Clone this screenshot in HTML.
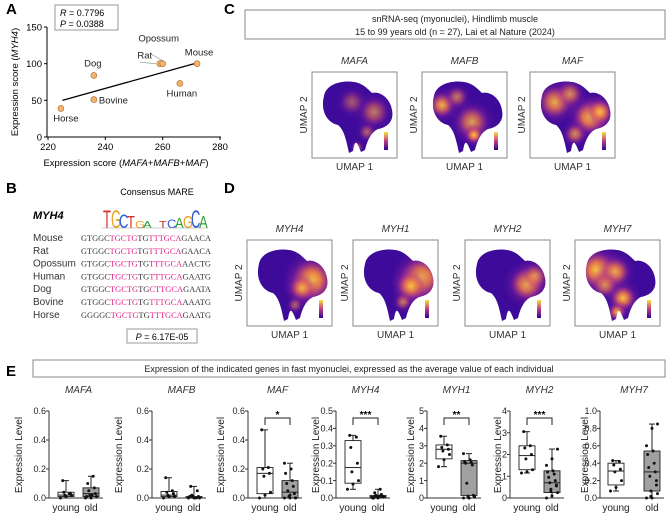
<!DOCTYPE html>
<html><head><meta charset="utf-8"><style>
html,body{margin:0;padding:0;background:#fff}
svg{display:block;font-family:"Liberation Sans",sans-serif}
</style></head><body>
<svg id="fig" width="669" height="530" viewBox="0 0 669 530">
<defs>
<linearGradient id="leg" x1="0" y1="1" x2="0" y2="0"><stop offset="0" stop-color="#2a0593"/><stop offset="0.5" stop-color="#c33d80"/><stop offset="1" stop-color="#f9e03c"/></linearGradient>
<radialGradient id="hot"><stop offset="0" stop-color="#fbd33a" stop-opacity="1"/><stop offset="0.45" stop-color="#f0803f" stop-opacity="0.85"/><stop offset="1" stop-color="#b02a8f" stop-opacity="0"/></radialGradient>
<radialGradient id="warm"><stop offset="0" stop-color="#d8508a" stop-opacity="0.9"/><stop offset="1" stop-color="#8a1ca0" stop-opacity="0"/></radialGradient>
<path id="blob" d="M12,24 C14,12 30,8 42,10 C50,11 55,16 60,21 C68,19 78,26 80,38 C82,48 77,55 66,57 C60,60 56,66 53,78 L49,80 C45,70 43,66 41,79 L37,81 C34,67 32,58 26,53 C16,51 8,40 12,24 Z"/>
<clipPath id="blobclip"><use href="#blob"/></clipPath>
</defs>

<g>
<text x="6" y="14" font-size="15" font-weight="bold">A</text>
<rect x="55" y="5" width="63" height="25" fill="#fff" stroke="#999"/>
<text x="60" y="16" font-size="9"><tspan font-style="italic">R</tspan> = 0.7796</text>
<text x="60" y="27" font-size="9"><tspan font-style="italic">P</tspan> = 0.0388</text>
<g id="scatter"></g>
<text x="126" y="166" font-size="9.5" text-anchor="middle">Expression score (<tspan font-style="italic">MAFA</tspan>+<tspan font-style="italic">MAFB</tspan>+<tspan font-style="italic">MAF</tspan>)</text>
<text transform="translate(18,82) rotate(-90)" font-size="9.5" text-anchor="middle">Expression score (<tspan font-style="italic">MYH4</tspan>)</text>
</g>

<g>
<text x="6" y="193" font-size="15" font-weight="bold">B</text>
<text x="157" y="195" font-size="9" text-anchor="middle">Consensus MARE</text>
<text x="33" y="219" font-size="11" font-weight="bold" font-style="italic">MYH4</text>
<g id="logo"></g>
<g id="seqs"></g>
<rect x="127" y="329" width="70" height="14" fill="#fff" stroke="#999"/>
<text x="162" y="340" font-size="9" text-anchor="middle"><tspan font-style="italic">P</tspan> = 6.17E-05</text>
</g>

<text x="224" y="14" font-size="15" font-weight="bold">C</text>
<rect x="245" y="10" width="420" height="29" fill="#fff" stroke="#888"/>
<text x="455" y="22" font-size="9" text-anchor="middle" fill="#222">snRNA-seq (myonuclei), Hindlimb muscle</text>
<text x="455" y="35" font-size="9" text-anchor="middle" fill="#222">15 to 99 years old (n = 27), Lai et al Nature (2024)</text>
<text x="224" y="193" font-size="15" font-weight="bold">D</text>
<g id="umaps"></g>

<text x="6" y="376" font-size="15" font-weight="bold">E</text>
<rect x="33" y="360" width="632" height="17" fill="#fff" stroke="#888"/>
<text x="349" y="372" font-size="9" text-anchor="middle" fill="#222">Expression of the indicated genes in fast myonuclei, expressed as the average value of each individual</text>
<g id="boxes"></g>
</svg>
<script>
const NS="http://www.w3.org/2000/svg";
function mk(parent,tag,attrs,txt){const e=document.createElementNS(NS,tag);for(const k in attrs)e.setAttribute(k,attrs[k]);if(txt!==undefined)e.textContent=txt;parent.appendChild(e);return e;}

/* ---------- Panel A data ---------- */
const species=["Horse","Dog","Bovine","Rat","Opossum","Mouse","Human"];
const mafScore=[224.5,236,236,259,260,272,266];
const myh4Score=[39,84,51,100,100,100,73];
const fitX=[225,272];
const fitY=[50,101];
const xTicksA=[220,240,260,280];
const yTicksA=[0,50,100,150];

const sx=v=>48+(v-220)/60*172;
const sy=v=>137-v/150*110;
const sc=document.getElementById('scatter');
let ax=mk(sc,'line',{x1:47,y1:27,x2:47,y2:137,stroke:'#000','stroke-width':1});


ax=mk(sc,'line',{x1:47,y1:137,x2:221,y2:137,stroke:'#000','stroke-width':1});


yTicksA.forEach(v=>{mk(sc,'line',{x1:44,x2:47,y1:sy(v),y2:sy(v),stroke:'#000'});
 const t=mk(sc,'text',{x:42,y:sy(v)+3.5,'font-size':9.5,'text-anchor':'end'},String(v));
 
 });
xTicksA.forEach(v=>{mk(sc,'line',{x1:sx(v),x2:sx(v),y1:137,y2:140,stroke:'#000'});
 const t=mk(sc,'text',{x:sx(v),y:150,'font-size':9.5,'text-anchor':'middle'},String(v));
 
 });
const fl=mk(sc,'line',{x1:sx(fitX[0]),y1:sy(fitY[0]),x2:sx(fitX[1]),y2:sy(fitY[1]),stroke:'#000','stroke-width':1.3});


const labOff={Horse:[5,13,'middle'],Dog:[-1,-9,'middle'],Bovine:[5,4,'start'],Rat:[-15,-5,'middle'],Opossum:[-4,-22,'middle'],Mouse:[2,-8,'middle'],Human:[2,13,'middle']};
mk(sc,'line',{x1:sx(259)-4,y1:sy(100),x2:sx(252),y2:sy(102),stroke:'#888','stroke-width':0.6});
mk(sc,'line',{x1:sx(260),y1:sy(100)-3,x2:sx(256),y2:sy(113),stroke:'#888','stroke-width':0.6});
species.forEach((s,i)=>{const c=mk(sc,'circle',{cx:sx(mafScore[i]),cy:sy(myh4Score[i]),r:3,fill:'#f5b26b',stroke:'#a56a2a','stroke-width':0.6});
 
 
 const o=labOff[s];
 const t=mk(sc,'text',{x:sx(mafScore[i])+o[0],y:sy(myh4Score[i])+o[1],'font-size':9.5,'text-anchor':o[2],fill:'#222'},s);
 
 });

/* ---------- Panel B ---------- */
const logo=document.getElementById('logo');
const logoLetters=[["T",1.0],["G",1.0],["C",0.8],["T",0.7],["G",0.4],["A",0.4],["",0],["T",0.4],["C",0.5],["A",0.6],["G",0.7],["C",1.0],["A",0.7]];
const lcol={A:'#2a9d3a',C:'#2d5bd6',G:'#f0a020',T:'#d8302a'};
let lx=103;
logoLetters.forEach(([ch,h])=>{ if(ch){const g=mk(logo,'text',{transform:`translate(${lx},228) scale(1,${h*1.9})`,'font-size':13,fill:lcol[ch]},ch);
 
 } lx+=8;});
mk(logo,'line',{x1:102,y1:228,x2:208,y2:228,stroke:'#999','stroke-width':0.5});
const seqNames=["Mouse","Rat","Opossum","Human","Dog","Bovine","Horse"];
const seqPre=["GTGGC","GTGGC","GTGGC","GTGGC","GTGGC","GTGGC","GGGGC"];
const seqMid=["TGTTT","TGTTT","TGTTT","TGTTT","TGCTT","TGTTT","TGTTT"];
const seqPost=["GAACA","GAACA","AACTG","GAATG","GAATA","AAATG","GAATG"];
const seqs=document.getElementById('seqs');
seqNames.forEach((n,i)=>{const y=241+i*12.8;
 const t=mk(seqs,'text',{x:33,y:y,'font-size':10,fill:'#333'},n);
 
 
 const s=mk(seqs,'text',{x:81,y:y,'font-size':8,'font-family':'Liberation Serif, serif',textLength:130,lengthAdjust:'spacingAndGlyphs',fill:'#333'});
 
 
 [[seqPre[i],'#333'],['TGCTG','#e0208a'],[seqMid[i].slice(0,2),'#333'],[seqMid[i].slice(2),'#e0208a'],['GCA','#e0208a'],[seqPost[i],'#333']].forEach(([tx,c])=>mk(s,'tspan',{fill:c},tx));
});

/* ---------- UMAPs ---------- */
const umapGenes=["MAFA","MAFB","MAF","MYH4","MYH1","MYH2","MYH7"];
const umapX=[312,422,530,247,353,465,575];
const umapY=[72,72,72,240,240,240,240];
const hotspots={
 MAFA:[[62,40,14,0.5],[40,30,12,0.35],[55,60,8,0.4],[45,75,5,0.6]],
 MAFB:[[20,33,12,0.8],[50,50,16,0.7],[52,63,8,0.9],[35,25,10,0.5]],
 MAF:[[25,30,16,0.8],[60,45,16,1],[70,40,12,0.9],[45,62,10,0.6],[40,22,12,0.6]],
 MYH4:[[65,40,20,1],[55,48,12,0.8],[48,65,7,0.4]],
 MYH1:[[68,38,20,1],[58,46,14,0.9],[50,62,8,0.5]],
 MYH2:[[62,44,16,0.9],[70,36,12,0.6]],
 MYH7:[[22,30,18,1],[40,32,14,0.8],[48,58,12,0.9],[42,72,8,0.8],[30,45,12,0.6]]};
const um=document.getElementById('umaps');
umapGenes.forEach((g,i)=>{const x=umapX[i],y=umapY[i];
 const grp=mk(um,'g',{transform:`translate(${x},${y})`});
 
 
 mk(grp,'text',{x:42.5,y:-8,'font-size':10,'font-style':'italic','text-anchor':'middle',fill:'#333'},g);
 mk(grp,'rect',{x:0,y:0,width:85,height:86,fill:'#fff',stroke:'#888','stroke-width':1});
 const inner=mk(grp,'g',{'clip-path':'url(#blobclip)'});
 mk(inner,'rect',{x:0,y:0,width:85,height:86,fill:'#3d0a9a'});
 hotspots[g].forEach(([cx,cy,r,o])=>{mk(inner,'circle',{cx:cx,cy:cy,r:r*1.5,fill:'url(#warm)',opacity:o});mk(inner,'circle',{cx:cx,cy:cy,r:r,fill:'url(#hot)',opacity:o});});
 mk(grp,'rect',{x:72,y:60,width:4,height:18,fill:'url(#leg)'});
 mk(grp,'text',{x:42.5,y:98,'font-size':10,'text-anchor':'middle',fill:'#333'},'UMAP 1');
 mk(grp,'text',{transform:'translate(-5,43) rotate(-90)','font-size':10,'text-anchor':'middle',fill:'#333'},'UMAP 2');
});

/* ---------- Panel E box plots ---------- */
const boxGenes=["MAFA","MAFB","MAF","MYH4","MYH1","MYH2","MYH7"];
const axisX=[49,152,248,336,427,510,600];
const yLabelX=[18,118,220,315,410,497,584];
const yMax=[0.6,0.6,0.6,0.5,5,4,1.0];
const tickVals=[[0,0.2,0.4,0.6],[0,0.2,0.4,0.6],[0,0.2,0.4,0.6],[0,0.1,0.2,0.3,0.4,0.5],[0,1,2,3,4,5],[0,1,2,3,4],[0,0.2,0.4,0.6,0.8,1.0]];
const tickLabels=[["0.0","0.2","0.4","0.6"],["0.0","0.2","0.4","0.6"],["0.0","0.2","0.4","0.6"],["0.0","0.1","0.2","0.3","0.4","0.5"],["0","1","2","3","4","5"],["0","1","2","3","4"],["0.0","0.2","0.4","0.6","0.8","1.0"]];
const youngStats=[[0,0.01,0.02,0.04,0.12],[0,0.01,0.02,0.045,0.14],[0,0.03,0.17,0.21,0.47],[0.05,0.085,0.175,0.33,0.36],[1.8,2.25,2.8,3.05,3.55],[1.15,1.3,1.95,2.4,3.05],[0.08,0.15,0.31,0.4,0.43]];
const oldStats=[[0,0.01,0.03,0.07,0.15],[0,0,0.005,0.01,0.08],[0,0,0.04,0.12,0.24],[0,0.002,0.008,0.015,0.05],[0,0.15,2.0,2.15,2.55],[0,0.25,0.7,1.25,2.25],[0,0.08,0.3,0.54,0.85]];
const youngPts=[[0,0.01,0.02,0.02,0.03,0.04,0.03,0.12],[0,0.01,0.01,0.02,0.03,0.04,0.05,0.14],[0,0.02,0.04,0.15,0.17,0.2,0.21,0.47],[0.05,0.08,0.1,0.15,0.2,0.29,0.35,0.36],[1.8,2.2,2.5,2.7,2.8,2.9,3.05,3.55],[1.15,1.2,1.3,1.8,2.0,2.3,2.4,3.05],[0.08,0.12,0.2,0.3,0.33,0.38,0.42,0.43]];
const oldPts=[[0,0,0.01,0.02,0.03,0.05,0.07,0.1,0.15,0.01,0.02],[0,0,0,0.01,0.01,0.02,0.05,0.08,0,0.01],[0,0,0,0.01,0.03,0.05,0.08,0.1,0.12,0.17,0.2,0.24,0.02,0],[0,0,0.005,0.008,0.01,0.015,0.02,0.03,0.05,0,0.01,0.002],[0,0,0.05,0.1,0.15,0.85,1.9,2.0,2.05,2.1,2.2,2.55,0,0.1],[0,0.1,0.25,0.4,0.55,0.7,0.8,0.95,1.1,1.2,1.25,1.5,1.8,2.25,0.3,0.6],[0,0,0.05,0.08,0.15,0.25,0.3,0.35,0.4,0.5,0.54,0.6,0.8,0.85,0.02,0.2]];
const sigLabels=["","","*","***","**","***",""];
const groupDx=[17,42];
const groupDxWide=[16,52];
const bx=document.getElementById('boxes');
const Y0=498,YT=411;
boxGenes.forEach((g,i)=>{
 const ys=v=>Y0-v/yMax[i]*(Y0-YT);
 const a=axisX[i];
 const dx=(g==="MYH7")?groupDxWide:groupDx;
 const xs=[a+dx[0],a+dx[1]];
 const grp=mk(bx,'g',{});
 
 
 mk(grp,'text',{x:(xs[0]+xs[1])/2,y:393,'font-size':10,'font-style':'italic','text-anchor':'middle',fill:'#333'},g);
 mk(grp,'line',{x1:a,y1:YT,x2:a,y2:Y0,stroke:'#333'});
 mk(grp,'line',{x1:a,y1:Y0,x2:xs[1]+12,y2:Y0,stroke:'#333'});
 tickVals[i].forEach((v,k)=>{mk(grp,'line',{x1:a-3,x2:a,y1:ys(v),y2:ys(v),stroke:'#333'});
  const t=mk(grp,'text',{x:a-3,y:ys(v)+3.2,'font-size':9,'text-anchor':'end',fill:'#222'},tickLabels[i][k]);
  
  });
 const yl=mk(grp,'text',{transform:`translate(${yLabelX[i]+4},455) rotate(-90)`,'font-size':10,'text-anchor':'middle',fill:'#222'},'Expression Level');
 
 
 [[youngStats[i],youngPts[i],'#fff','young'],[oldStats[i],oldPts[i],'#a0a0a0','old']].forEach(([st,pts,fill,name],j)=>{
  const cx=xs[j],w=8;
  const b=mk(grp,'g',{});
  
  
  mk(b,'line',{x1:cx,x2:cx,y1:ys(st[0]),y2:ys(st[4]),stroke:'#222'});
  mk(b,'line',{x1:cx-3,x2:cx+3,y1:ys(st[0]),y2:ys(st[0]),stroke:'#222'});
  mk(b,'line',{x1:cx-3,x2:cx+3,y1:ys(st[4]),y2:ys(st[4]),stroke:'#222'});
  mk(b,'rect',{x:cx-w,y:ys(st[3]),width:2*w,height:Math.max(0.8,ys(st[1])-ys(st[3])),fill:fill,stroke:'#222','stroke-width':0.9});
  mk(b,'line',{x1:cx-w,x2:cx+w,y1:ys(st[2]),y2:ys(st[2]),stroke:'#222'});
  pts.forEach((v,k)=>{const off=((k*5)%11-5)*1.1;
   const p=mk(b,'circle',{cx:cx+off,cy:ys(v),r:1.5,fill:'#111'});
   
   });
  mk(grp,'text',{x:cx,y:511,'font-size':10,'text-anchor':'middle',fill:'#222'},name);
 });
 if(sigLabels[i]){
  mk(grp,'path',{d:`M${xs[0]},${YT+14} V${YT+7} H${xs[1]} V${YT+14}`,fill:'none',stroke:'#222'});
  mk(grp,'text',{x:(xs[0]+xs[1])/2,y:YT+7,'font-size':10,'font-weight':'bold','text-anchor':'middle'},sigLabels[i]);
 }
});
</script>
</body></html>
